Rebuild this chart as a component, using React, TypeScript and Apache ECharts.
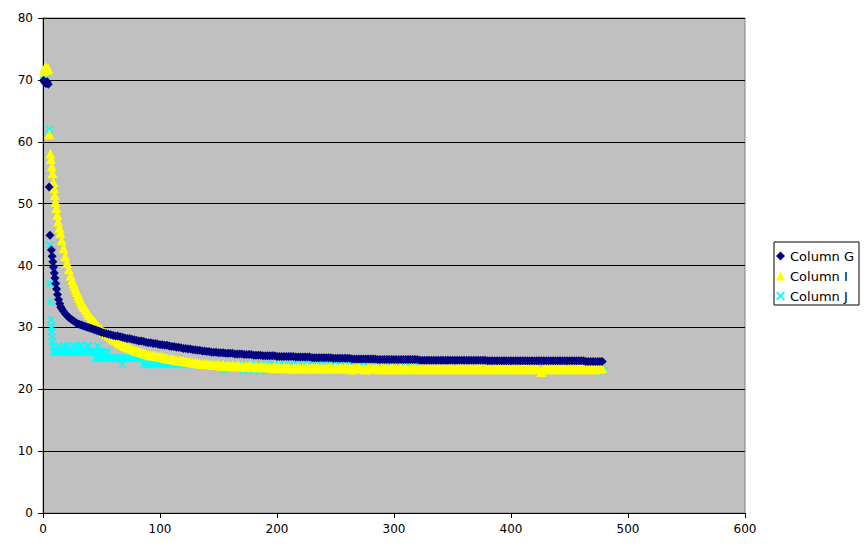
import React, { useEffect, useRef } from "react";
import * as echarts from "echarts";

const seriesNames = ["Column G", "Column I", "Column J"];
const xTicks = { min: 0, max: 600, interval: 100 };
const yTicks = { min: 0, max: 80, interval: 10 };

// steep start of each series, [x, y]
const headG: [number, number][] = [
  [0.5, 69.9], [1.5, 69.6], [2.5, 69.4], [3.5, 69.7], [4.5, 69.3],
  [5.3, 52.7], [6, 44.9], [7.2, 42.5], [7.8, 41.5], [8.4, 40.6], [9, 39.7],
  [9.6, 38.8], [10.2, 38.0], [10.9, 37.1], [11.6, 36.2], [12.4, 35.3],
  [13.3, 34.5], [14.3, 33.8], [15.2, 33.3], [16, 33.0], [17.5, 32.6],
  [19, 32.2], [20.5, 31.9], [22, 31.6], [23.5, 31.4], [25, 31.2], [26.5, 31.0],
  [28, 30.8], [29.5, 30.6], [31, 30.5], [32.5, 30.4], [34, 30.3], [35.5, 30.2],
  [37, 30.1], [38.5, 30.0], [40, 29.9], [41.5, 29.8], [43, 29.7], [44.5, 29.6],
  [46, 29.5], [47.5, 29.4], [49, 29.3],
];

const headI: [number, number][] = [
  [0.5, 71.4], [1.5, 71.9], [2.5, 72.1], [3.5, 71.6], [4.5, 71.8],
  [5.5, 61.2], [6.3, 58.1], [6.8, 57.2], [7.5, 56.0], [8.1, 54.9], [8.8, 53.5],
  [9.4, 52.5], [10.1, 51.4], [10.8, 50.3], [11.4, 49.3], [12.2, 48.2],
  [13.0, 47.1], [14.0, 46.1], [14.8, 45.3], [16, 44.1], [17.5, 42.8],
  [19, 41.5], [20.5, 40.4], [22, 39.4], [23.5, 38.4], [25, 37.6], [26, 37.1],
  [27, 36.6], [28, 36.1], [29, 35.7], [30, 35.2], [31, 34.8], [32, 34.4],
  [33, 34.0], [34, 33.6], [35, 33.3], [36.5, 32.9], [38, 32.4], [39.5, 32.0],
  [41, 31.6], [42.5, 31.2], [44, 30.9], [45.5, 30.5], [47, 30.2], [48.5, 29.9],
];

const headJ: [number, number][] = [
  [0.5, 70.8], [1.5, 71.2], [2.5, 70.9], [3.5, 71.3],
  [5.3, 62.0], [5.8, 43.3], [6.2, 37.1], [6.4, 34.1], [6.8, 31.2], [7.3, 30.1],
  [7.4, 29.3], [7.9, 28.5], [8.0, 27.7], [8.6, 27.0],
  [9, 26], [10, 26], [11, 26], [12, 26], [13, 27], [14, 26], [15, 26], [16, 26],
  [17, 26], [18, 27], [19, 26], [20, 26], [21, 27], [22, 26], [23, 26], [24, 26],
  [25, 26], [26, 27], [27, 26], [28, 26], [29, 27], [30, 26], [31, 26], [32, 27],
  [33, 27], [34, 26], [35, 26], [36, 26], [37, 26], [38, 27], [39, 27], [40, 26],
  [41, 26], [42, 26], [43, 26], [44, 26], [45, 26], [46, 26], [47, 27], [48, 26],
  [49, 26], [50, 26], [51, 26], [52, 26], [53, 26], [54, 26], [55, 26],
  [45, 25], [46, 25], [47, 25], [48, 25], [49, 25], [50, 25], [51, 25], [52, 25],
  [53, 25], [54, 25], [55, 25], [56, 25], [57, 25], [58, 25], [59, 25], [60, 25],
  [61, 25], [62, 25], [63, 25], [64, 25], [65, 25], [66, 25], [67, 25], [68, 25],
  [69, 25], [70, 25], [71, 25], [72, 25], [73, 25], [74, 25], [75, 25], [76, 25],
  [77, 25], [78, 25], [79, 25], [80, 25], [81, 25], [82, 25], [83, 25], [84, 25],
  [85, 25],
  [68, 24], [86, 24], [88, 24], [90, 24], [92, 24], [94, 24], [96, 24], [98, 24],
  [100, 24], [102, 24], [104, 24], [106, 24], [108, 24], [110, 24], [112, 24],
  [114, 24], [116, 24], [118, 24], [120, 24], [122, 24], [124, 24], [126, 24],
  [128, 24], [130, 24], [132, 24], [134, 24], [136, 24], [138, 24], [140, 24],
  [142, 24], [144, 24], [146, 24], [148, 24], [150, 24],
];

// flat part, x from 50 to 478 every 2
const tailX = [
  50, 52, 54, 56, 58, 60, 62, 64, 66, 68,
  70, 72, 74, 76, 78, 80, 82, 84, 86, 88,
  90, 92, 94, 96, 98, 100, 102, 104, 106, 108,
  110, 112, 114, 116, 118, 120, 122, 124, 126, 128,
  130, 132, 134, 136, 138, 140, 142, 144, 146, 148,
  150, 152, 154, 156, 158, 160, 162, 164, 166, 168,
  170, 172, 174, 176, 178, 180, 182, 184, 186, 188,
  190, 192, 194, 196, 198, 200, 202, 204, 206, 208,
  210, 212, 214, 216, 218, 220, 222, 224, 226, 228,
  230, 232, 234, 236, 238, 240, 242, 244, 246, 248,
  250, 252, 254, 256, 258, 260, 262, 264, 266, 268,
  270, 272, 274, 276, 278, 280, 282, 284, 286, 288,
  290, 292, 294, 296, 298, 300, 302, 304, 306, 308,
  310, 312, 314, 316, 318, 320, 322, 324, 326, 328,
  330, 332, 334, 336, 338, 340, 342, 344, 346, 348,
  350, 352, 354, 356, 358, 360, 362, 364, 366, 368,
  370, 372, 374, 376, 378, 380, 382, 384, 386, 388,
  390, 392, 394, 396, 398, 400, 402, 404, 406, 408,
  410, 412, 414, 416, 418, 420, 422, 424, 426, 428,
  430, 432, 434, 436, 438, 440, 442, 444, 446, 448,
  450, 452, 454, 456, 458, 460, 462, 464, 466, 468,
  470, 472, 474, 476, 478,
];

const tailG = [
  29.2, 29.1, 29.0, 28.9, 28.8, 28.7, 28.6, 28.6, 28.5, 28.4,
  28.3, 28.2, 28.2, 28.1, 28.0, 27.9, 27.8, 27.8, 27.7, 27.6,
  27.5, 27.5, 27.4, 27.4, 27.3, 27.2, 27.2, 27.1, 27.1, 27.0,
  26.9, 26.9, 26.8, 26.8, 26.7, 26.6, 26.6, 26.5, 26.5, 26.4,
  26.4, 26.3, 26.3, 26.2, 26.2, 26.1, 26.1, 26.0, 26.0, 26.0,
  25.9, 25.9, 25.9, 25.8, 25.8, 25.8, 25.8, 25.7, 25.7, 25.7,
  25.7, 25.6, 25.6, 25.6, 25.6, 25.5, 25.5, 25.5, 25.5, 25.4,
  25.4, 25.4, 25.4, 25.4, 25.4, 25.3, 25.3, 25.3, 25.3, 25.3,
  25.3, 25.3, 25.3, 25.2, 25.2, 25.2, 25.2, 25.2, 25.2, 25.2,
  25.1, 25.1, 25.1, 25.1, 25.1, 25.1, 25.1, 25.1, 25.1, 25.0,
  25.0, 25.0, 25.0, 25.0, 25.0, 25.0, 25.0, 24.9, 24.9, 24.9,
  24.9, 24.9, 24.9, 24.9, 24.9, 24.9, 24.9, 24.9, 24.8, 24.8,
  24.8, 24.8, 24.8, 24.8, 24.8, 24.8, 24.8, 24.8, 24.8, 24.8,
  24.8, 24.8, 24.8, 24.8, 24.8, 24.8, 24.7, 24.7, 24.7, 24.7,
  24.7, 24.7, 24.7, 24.7, 24.7, 24.7, 24.7, 24.7, 24.7, 24.7,
  24.7, 24.7, 24.7, 24.7, 24.7, 24.7, 24.7, 24.7, 24.7, 24.7,
  24.7, 24.7, 24.7, 24.7, 24.7, 24.6, 24.6, 24.6, 24.6, 24.6,
  24.6, 24.6, 24.6, 24.6, 24.6, 24.6, 24.6, 24.6, 24.6, 24.6,
  24.6, 24.6, 24.6, 24.6, 24.6, 24.6, 24.6, 24.6, 24.6, 24.6,
  24.6, 24.6, 24.6, 24.6, 24.6, 24.6, 24.6, 24.6, 24.6, 24.6,
  24.6, 24.6, 24.6, 24.6, 24.6, 24.6, 24.6, 24.5, 24.5, 24.5,
  24.5, 24.5, 24.5, 24.5, 24.5,
];

const tailI = [
  29.6, 29.3, 29.0, 28.7, 28.4, 28.1, 27.9, 27.6, 27.4, 27.2,
  27.0, 26.8, 26.7, 26.5, 26.3, 26.2, 26.1, 26.0, 25.8, 25.7,
  25.6, 25.5, 25.5, 25.4, 25.3, 25.3, 25.2, 25.1, 25.0, 24.9,
  24.9, 24.8, 24.7, 24.7, 24.6, 24.6, 24.5, 24.4, 24.4, 24.3,
  24.3, 24.2, 24.2, 24.1, 24.1, 24.1, 24.0, 24.0, 24.0, 23.9,
  24.0, 23.8, 24.0, 23.7, 23.9, 23.8, 23.9, 23.7, 23.9, 23.7,
  23.8, 23.6, 23.8, 23.7, 23.8, 23.6, 23.8, 23.5, 23.7, 23.6,
  23.7, 23.5, 23.6, 23.4, 23.7, 23.5, 23.6, 23.4, 23.6, 23.5,
  23.6, 23.3, 23.5, 23.4, 23.6, 23.3, 23.5, 23.4, 23.6, 23.3,
  23.5, 23.4, 23.6, 23.3, 23.5, 23.3, 23.5, 23.4, 23.6, 23.3,
  23.5, 23.3, 23.5, 23.4, 23.5, 23.3, 23.5, 23.2, 23.5, 23.4,
  23.5, 23.3, 23.4, 23.2, 23.5, 23.3, 23.4, 23.3, 23.5, 23.2,
  23.5, 23.3, 23.4, 23.2, 23.5, 23.3, 23.4, 23.2, 23.5, 23.3,
  23.4, 23.2, 23.5, 23.3, 23.4, 23.2, 23.5, 23.3, 23.4, 23.2,
  23.5, 23.3, 23.4, 23.2, 23.5, 23.3, 23.4, 23.2, 23.4, 23.3,
  23.5, 23.2, 23.4, 23.3, 23.5, 23.2, 23.4, 23.3, 23.5, 23.2,
  23.4, 23.3, 23.5, 23.2, 23.4, 23.3, 23.5, 23.2, 23.4, 23.3,
  23.5, 23.2, 23.4, 23.3, 23.5, 23.2, 23.4, 23.3, 23.4, 23.2,
  23.5, 23.3, 23.4, 23.2, 23.5, 23.3, 23.4, 23.2, 22.8, 23.3,
  23.5, 23.2, 23.4, 23.3, 23.5, 23.2, 23.4, 23.3, 23.4, 23.2,
  23.5, 23.3, 23.4, 23.2, 23.5, 23.3, 23.4, 23.2, 23.4, 23.3,
  23.5, 23.2, 23.4, 23.3, 23.4,
];

// Column J after x = 150: [x, y]
const tailJ: [number, number][] = [
  [152, 24], [155, 23], [157, 24], [162, 24], [167, 24], [171, 23], [172, 24],
  [177, 24], [180, 23], [182, 24], [186, 23], [187, 24], [191, 23], [192, 24],
  [197, 24], [202, 24], [207, 24], [212, 24], [217, 24], [220, 23], [222, 24],
  [227, 24], [232, 24], [237, 23], [237, 24], [242, 24], [246, 23], [247, 24],
  [252, 24], [254, 23], [257, 24], [262, 24], [267, 24], [272, 24], [277, 24],
  [282, 24], [285, 23], [287, 24], [292, 24], [297, 24], [300, 23], [302, 24],
  [307, 24], [312, 24], [315, 23], [318, 24], [330, 23], [345, 23], [360, 23],
  [375, 23], [390, 23], [405, 23], [420, 23], [435, 23], [450, 23], [465, 23],
  [479, 23],
];

const zip = (xs: number[], ys: number[]): [number, number][] =>
  xs.slice(0, Math.min(xs.length, ys.length)).map((x, i) => [x, ys[i]]);

const columnG = [...headG, ...zip(tailX, tailG)];
const columnI = [...headI, ...zip(tailX, tailI)];
const columnJ = [...headJ, ...tailJ];

const xSymbol =
  "path://M0,1.5 L1.5,0 L5,3.5 L8.5,0 L10,1.5 L6.5,5 L10,8.5 L8.5,10 L5,6.5 L1.5,10 L0,8.5 L3.5,5 Z";

const font = "DejaVu Sans";

export default function App() {
  const ref = useRef<HTMLDivElement>(null);
  useEffect(() => {
    if (!ref.current) return;
    const chart = echarts.init(ref.current, undefined, { renderer: "svg" });
    chart.setOption({
      animation: false,
      backgroundColor: "#ffffff",
      grid: {
        left: 43,
        right: 122,
        top: 18,
        bottom: 35,
        show: true,
        backgroundColor: "#c0c0c0",
        borderColor: "#808080",
        borderWidth: 1,
      },
      legend: {
        orient: "vertical",
        left: 774,
        top: 242,
        padding: [7, 5, 2, 2],
        itemGap: 6,
        itemWidth: 9,
        itemHeight: 9,
        backgroundColor: "#ffffff",
        borderColor: "#000000",
        borderWidth: 1,
        borderRadius: 0,
        textStyle: { fontFamily: font, fontSize: 13, color: "#000", lineHeight: 14 },
        data: seriesNames,
      },
      xAxis: {
        type: "value",
        min: xTicks.min,
        max: xTicks.max,
        interval: xTicks.interval,
        axisLine: { show: true, lineStyle: { color: "#000", width: 1 } },
        axisTick: { show: true, length: 5, lineStyle: { color: "#000" } },
        axisLabel: { fontFamily: font, fontSize: 12, color: "#000", margin: 10 },
        splitLine: { show: false },
      },
      yAxis: {
        type: "value",
        min: yTicks.min,
        max: yTicks.max,
        interval: yTicks.interval,
        axisLine: { show: true, lineStyle: { color: "#000", width: 1 } },
        axisTick: { show: true, length: 5, lineStyle: { color: "#000" } },
        axisLabel: { fontFamily: font, fontSize: 12, color: "#000", margin: 10 },
        splitLine: { show: true, lineStyle: { color: "#000", width: 1 } },
      },
      series: [
        {
          name: seriesNames[0],
          type: "scatter",
          symbol: "diamond",
          symbolSize: 9,
          itemStyle: { color: "#000080", opacity: 1 },
          data: columnG,
          z: 5,
        },
        {
          name: seriesNames[1],
          type: "scatter",
          symbol: "triangle",
          symbolSize: 10,
          itemStyle: { color: "#ffff00", opacity: 1 },
          data: columnI,
          z: 4,
        },
        {
          name: seriesNames[2],
          type: "scatter",
          symbol: xSymbol,
          symbolSize: 8,
          itemStyle: { color: "#00ffff", opacity: 1 },
          data: columnJ,
          z: 3,
        },
      ],
    });
    return () => chart.dispose();
  }, []);
  return (
    <div
      ref={ref}
      style={{ position: "fixed", left: 0, top: 0, width: 867, height: 548 }}
    />
  );
}
